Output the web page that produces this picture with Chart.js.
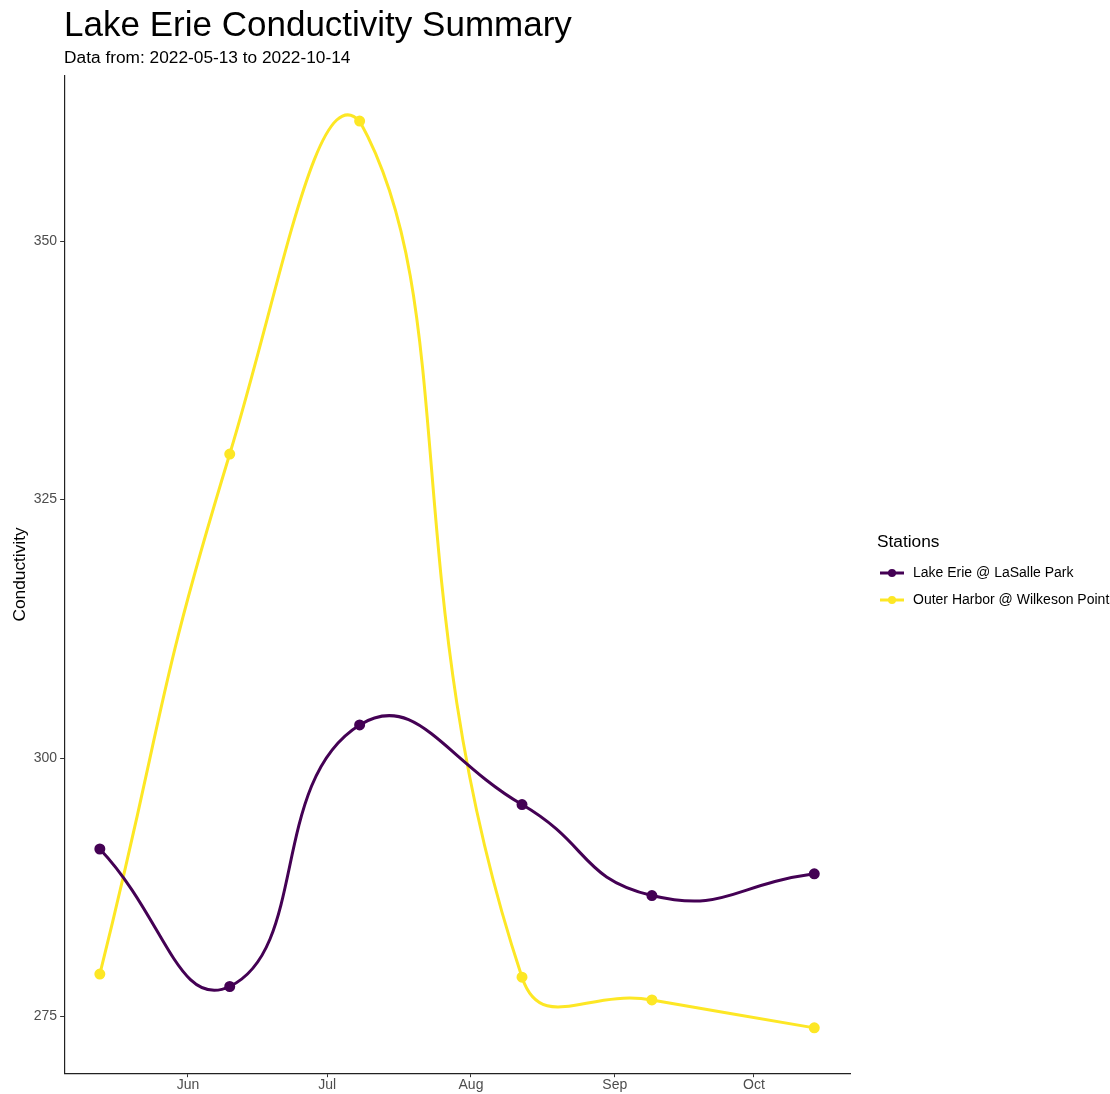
<!DOCTYPE html>
<html>
<head>
<meta charset="utf-8">
<script src="https://cdn.jsdelivr.net/npm/chart.js@4"></script>
<style>
  body { margin: 0; background: #fff; }
  canvas { display: block; }
</style>
</head>
<body>
<canvas id="chart" width="1110" height="1094"></canvas>
<script>
const sampleDates = ['2022-05-13', '2022-06-10', '2022-07-08', '2022-08-12', '2022-09-09', '2022-10-14']
const lasallePark = [291.2, 277.9, 303.2, 295.5, 286.7, 288.8]
const outerHarbor = [279.1, 329.4, 361.6, 278.8, 276.6, 273.9]
const monthTicks = ['2022-06-01', '2022-07-01', '2022-08-01', '2022-09-01', '2022-10-01']
const monthLabels = ['Jun', 'Jul', 'Aug', 'Sep', 'Oct']
const yTicks = [275, 300, 325, 350]
const legendTitle = 'Stations'

const PURPLE = '#440154'
const YELLOW = '#FDE725'
const FONT = '"Liberation Sans", Arial, Helvetica, sans-serif'

const toMs = d => Date.parse(d + 'T00:00:00Z')
const xs = sampleDates.map(toMs)

// ggplot style 5% expansion
const allY = lasallePark.concat(outerHarbor)
const yMin = Math.min(...allY), yMax = Math.max(...allY)
const yPad = (yMax - yMin) * 0.05
const xPad = (xs[xs.length - 1] - xs[0]) * 0.05

// legend key: line with a dot, drawn into a small canvas
function legendKey(color) {
  const c = document.createElement('canvas')
  c.width = 43
  c.height = 12
  const g = c.getContext('2d')
  g.strokeStyle = color
  g.lineWidth = 3
  g.beginPath()
  g.moveTo(17, 6)
  g.lineTo(41, 6)
  g.stroke()
  g.fillStyle = color
  g.beginPath()
  g.arc(29, 6, 4, 0, Math.PI * 2)
  g.fill()
  return c
}

function series(label, values, color) {
  return {
    label: label,
    data: values.map((v, i) => ({ x: xs[i], y: v })),
    borderColor: color,
    backgroundColor: color,
    borderWidth: 3,
    pointRadius: 4,
    pointHoverRadius: 4,
    tension: 0.5,
  }
}

// legend title drawn left-aligned with the keys, like ggplot
const legendTitlePlugin = {
  id: 'legendTitle',
  afterDraw(chart) {
    const boxes = chart.legend.legendHitBoxes
    if (!boxes || !boxes.length) return
    const c = chart.ctx
    c.save()
    c.fillStyle = '#000'
    c.font = '17.3px ' + FONT
    c.textBaseline = 'middle'
    c.textAlign = 'left'
    c.fillText(legendTitle, boxes[0].left + 14, boxes[0].top - 24)
    c.restore()
  },
}

const ctx = document.getElementById('chart').getContext('2d')
const chart = new Chart(ctx, {
  type: 'line',
  data: {
    datasets: [
      series('Lake Erie @ LaSalle Park', lasallePark, PURPLE),
      series('Outer Harbor @ Wilkeson Point', outerHarbor, YELLOW),
    ],
  },
  plugins: [legendTitlePlugin],
  options: {
    animation: false,
    responsive: false,
    maintainAspectRatio: false,
    layout: { padding: { left: 2, right: 0, top: 1, bottom: 0 } },
    plugins: {
      tooltip: { enabled: false },
      title: {
        display: true,
        text: 'Lake Erie Conductivity Summary',
        align: 'start',
        fullSize: false,
        color: '#000',
        font: { family: FONT, size: 35, weight: 'normal' },
        padding: { top: 4, bottom: 0 },
      },
      subtitle: {
        display: true,
        text: 'Data from: 2022-05-13 to 2022-10-14',
        align: 'start',
        fullSize: false,
        color: '#000',
        font: { family: FONT, size: 17.3 },
        padding: { top: 1, bottom: 7 },
      },
      legend: {
        position: 'right',
        align: 'center',
        maxWidth: 260,
        // empty title only reserves space so the keys sit where ggplot puts them
        title: { display: true, text: '', color: '#000', font: { size: 10 }, padding: { top: 66, bottom: 0 } },
        labels: {
          usePointStyle: true,
          pointStyleWidth: 43,
          boxHeight: 12,
          padding: 13,
          color: '#000',
          font: { family: FONT, size: 14 },
          generateLabels: c => c.data.datasets.map((ds, i) => ({
            text: ds.label,
            pointStyle: legendKey(ds.borderColor),
            fillStyle: ds.borderColor,
            strokeStyle: ds.borderColor,
            fontColor: '#000',
            lineWidth: 0,
            datasetIndex: i,
          })),
        },
      },
    },
    scales: {
      x: {
        type: 'linear',
        min: xs[0] - xPad,
        max: xs[xs.length - 1] + xPad,
        afterBuildTicks: axis => { axis.ticks = monthTicks.map(d => ({ value: toMs(d) })) },
        ticks: {
          autoSkip: false,
          maxRotation: 0,
          padding: 0,
          color: '#4d4d4d',
          font: { family: FONT, size: 14 },
          callback: (v, i) => monthLabels[i],
        },
        grid: { display: true, drawOnChartArea: false, drawTicks: true, tickLength: 4, color: '#333', lineWidth: 1 },
        border: { display: true, color: '#222', width: 1.2 },
      },
      y: {
        type: 'linear',
        min: yMin - yPad,
        max: yMax + yPad,
        afterBuildTicks: axis => { axis.ticks = yTicks.map(v => ({ value: v })) },
        title: {
          display: true,
          text: 'Conductivity',
          color: '#000',
          font: { family: FONT, size: 17.3 },
          padding: { top: 8, bottom: 0 },
        },
        ticks: {
          padding: 3,
          color: '#4d4d4d',
          font: { family: FONT, size: 14 },
        },
        grid: { display: true, drawOnChartArea: false, drawTicks: true, tickLength: 4, color: '#333', lineWidth: 1 },
        border: { display: true, color: '#222', width: 1.2 },
      },
    },
  },
})
console.log(JSON.stringify(chart.chartArea), chart.legend.left, chart.legend.width)
</script>
</body>
</html>
